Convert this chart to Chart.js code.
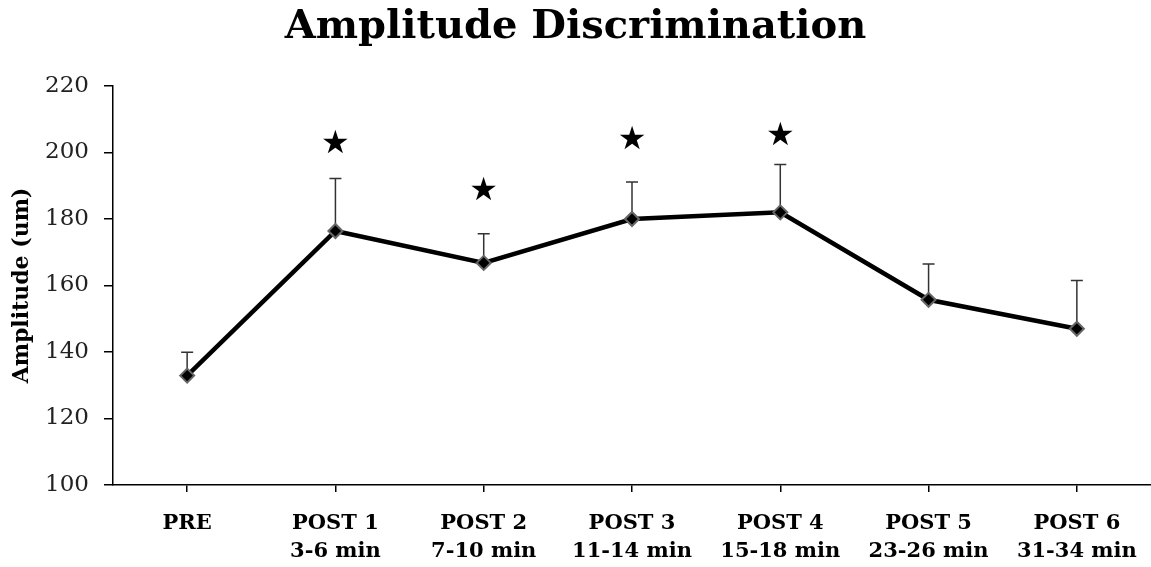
<!DOCTYPE html>
<html>
<head>
<meta charset="utf-8">
<script src="https://cdn.jsdelivr.net/npm/chart.js@4/dist/chart.umd.min.js"></script>
<style>
  html, body { margin: 0; padding: 0; background: #fff; overflow: hidden; }
  #wrap { width: 1151px; height: 567px; }
</style>
</head>
<body>
<div id="wrap"><canvas id="chart" width="1151" height="567"></canvas></div>
<script>
/* Amplitude Discrimination — mean amplitude per session with upward error bars */

const CATEGORIES = [
  ['PRE'],
  ['POST 1', '3-6 min'],
  ['POST 2', '7-10 min'],
  ['POST 3', '11-14 min'],
  ['POST 4', '15-18 min'],
  ['POST 5', '23-26 min'],
  ['POST 6', '31-34 min']
];
const MEANS  = [132.9, 176.4, 166.8, 180.0, 182.0, 155.7, 147.0];
const ERRORS = [7.0, 15.8, 8.8, 11.1, 14.4, 10.8, 14.5];
// height of the significance star per session (null = no star)
const STARS  = [null, 202.9, 188.7, 204.2, 205.5, null, null];
const Y_TICKS = [100, 120, 140, 160, 180, 200, 220];

const SERIF = "'DejaVu Serif', serif";

// ── Error bars + stars ───────────────────────────────────────

const errorBars = {
  id: 'errorBars',
  beforeDatasetsDraw(chart) {
    const ctx = chart.ctx;
    const x = chart.scales.x, y = chart.scales.y;
    ctx.save();
    ctx.strokeStyle = '#333';
    ctx.lineWidth = 1.5;
    MEANS.forEach((m, i) => {
      const px = x.getPixelForValue(i);
      const y0 = y.getPixelForValue(m);
      const y1 = y.getPixelForValue(m + ERRORS[i]);
      ctx.beginPath();
      ctx.moveTo(px, y0);
      ctx.lineTo(px, y1);
      ctx.moveTo(px - 6, y1);
      ctx.lineTo(px + 6, y1);
      ctx.stroke();
    });
    ctx.restore();
  },
  afterDatasetsDraw(chart) {
    const ctx = chart.ctx;
    const x = chart.scales.x, y = chart.scales.y;
    ctx.save();
    ctx.fillStyle = '#000';
    ctx.font = "32px 'DejaVu Sans', sans-serif";
    ctx.textAlign = 'center';
    ctx.textBaseline = 'middle';
    STARS.forEach((s, i) => {
      if (s === null) return;
      ctx.fillText('\u2605', x.getPixelForValue(i), y.getPixelForValue(s) + 2);
    });
    ctx.restore();
  }
};

new Chart(document.getElementById('chart'), {
  type: 'line',
  data: {
    labels: CATEGORIES,
    datasets: [{
      label: 'Amplitude',
      data: MEANS,
      borderColor: '#000',
      borderWidth: 4.5,
      pointStyle: 'rectRot',
      pointRadius: 7,
      pointBackgroundColor: '#000',
      pointBorderColor: '#666',
      pointBorderWidth: 2,
      tension: 0
    }]
  },
  options: {
    responsive: false,
    animation: false,
    layout: { autoPadding: false, padding: { left: 0, right: 0, top: 0, bottom: 0 } },
    plugins: {
      legend: { display: false },
      tooltip: { enabled: false },
      title: {
        display: true,
        text: 'Amplitude Discrimination',
        color: '#000',
        font: { family: SERIF, size: 40, weight: 'bold', lineHeight: 1.2 },
        padding: { top: 4, bottom: 34 }
      }
    },
    scales: {
      x: {
        offset: true,
        grid: { drawOnChartArea: false, tickLength: 7, color: '#000', lineWidth: 1.5 },
        border: { color: '#000', width: 1.5 },
        ticks: {
          color: '#000',
          padding: 17,
          maxRotation: 0,
          autoSkip: false,
          font: { family: SERIF, size: 21, weight: 'bold', lineHeight: 1.35 }
        },
        afterFit: s => { s.height = 82; s.paddingLeft = 0; s.paddingRight = 0; }
      },
      y: {
        min: 100,
        max: 220,
        afterBuildTicks: s => { s.ticks = Y_TICKS.map(v => ({ value: v })); },
        grid: { drawOnChartArea: false, tickLength: 9, color: '#000', lineWidth: 1.5 },
        border: { color: '#000', width: 1.5 },
        ticks: {
          color: '#222',
          padding: 15,
          font: { family: SERIF, size: 23 }
        },
        title: {
          display: true,
          text: 'Amplitude (um)',
          color: '#000',
          padding: { top: 9, bottom: 0 },
          font: { family: SERIF, size: 22, weight: 'bold' }
        },
        afterFit: s => { s.width = 113; s.paddingTop = 0; s.paddingBottom = 0; }
      }
    }
  },
  plugins: [errorBars]
});
</script>
</body>
</html>
